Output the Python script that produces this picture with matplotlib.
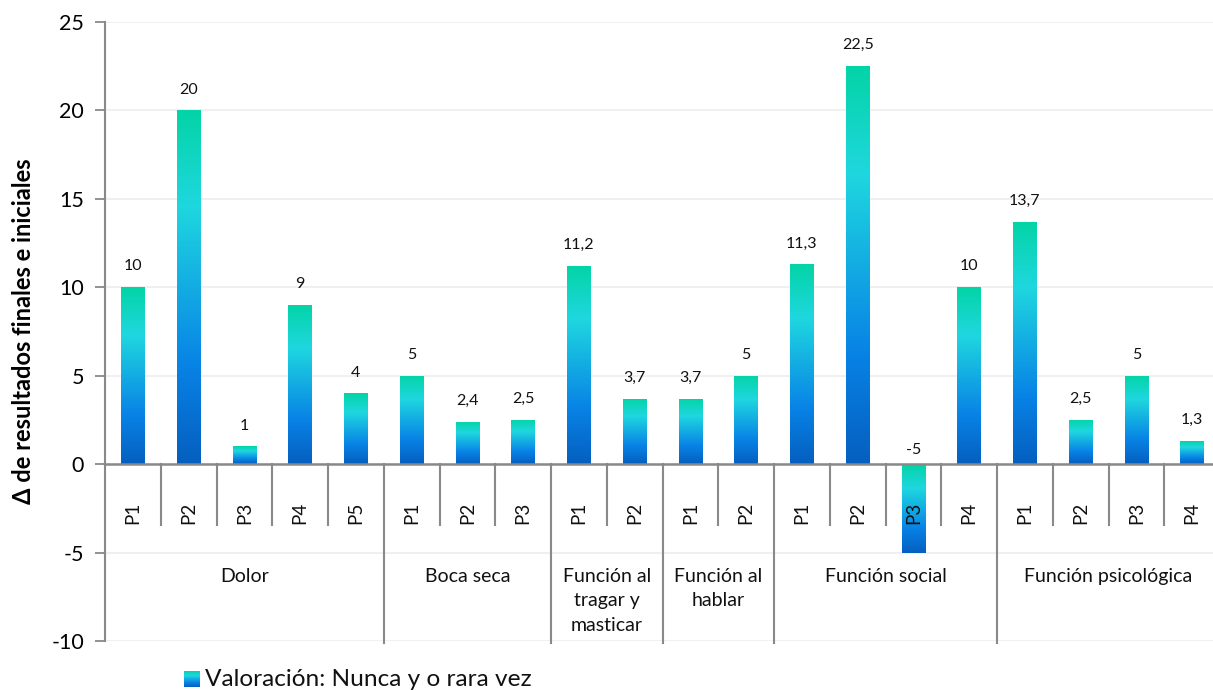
import numpy as np
import matplotlib
matplotlib.use("Agg")
import matplotlib.pyplot as plt
from matplotlib.colors import LinearSegmentedColormap

plt.rcParams['font.family'] = ['Lato', 'DejaVu Sans']
plt.rcParams['axes.unicode_minus'] = False

# data
groups = ['Dolor', 'Boca seca', 'Función al\ntragar y\nmasticar', 'Función al\nhablar',
          'Función social', 'Función psicológica']
items = [['P1', 'P2', 'P3', 'P4', 'P5'],
         ['P1', 'P2', 'P3'],
         ['P1', 'P2'],
         ['P1', 'P2'],
         ['P1', 'P2', 'P3', 'P4'],
         ['P1', 'P2', 'P3', 'P4']]
values = [10, 20, 1, 9, 4,
          5, 2.4, 2.5,
          11.2, 3.7,
          3.7, 5,
          11.3, 22.5, -5, 10,
          13.7, 2.5, 5, 1.3]
labels = [p for g in items for p in g]
legend_label = 'Valoración: Nunca y o rara vez'

grad = LinearSegmentedColormap.from_list('g', [(0, '#03d4a6'), (0.27, '#1fd7df'),
                                               (0.72, '#0883e6'), (1, '#055fbf')])
gray = '#898989'

fig = plt.figure(figsize=(12.13, 6.9), dpi=100)
ax = fig.add_axes([105 / 1213, 1 - 641 / 690, (1220 - 105) / 1213, (641 - 22) / 690])
x = np.arange(len(values))
ax.set_xlim(-0.5, len(values) - 0.5)
ax.set_ylim(-10, 25)

ax.set_yticks(np.arange(-10, 26, 5))
ax.yaxis.grid(True, color='#efefef', lw=1.3)
ax.set_axisbelow(True)
ax.tick_params(axis='y', labelsize=15.5, length=7, color=gray, width=1.3, pad=8)
ax.set_xticks([])
for s in ['top', 'right', 'bottom']:
    ax.spines[s].set_visible(False)
ax.spines['left'].set_color(gray)
ax.spines['left'].set_linewidth(1.5)
ax.set_ylabel('Δ de resultados finales e iniciales', fontsize=17, fontweight='bold', labelpad=12)

bars = ax.bar(x, values, width=0.42, color='none', zorder=3)
g = np.linspace(0, 1, 256).reshape(-1, 1)
for b, v in zip(bars, values):
    x0 = b.get_x()
    lo, hi = min(0, v), max(0, v)
    im = ax.imshow(g, cmap=grad, aspect='auto', origin='upper',
                   extent=[x0, x0 + b.get_width(), lo, hi], zorder=3)
    im.set_clip_path(b)
    txt = ('%g' % v).replace('.', ',')
    off = 10 if v >= 0 else 5.5
    ax.annotate(txt, (b.get_x() + b.get_width() / 2, hi), xytext=(0, off),
                textcoords='offset points', ha='center', va='bottom', fontsize=11.5, color='#111111')

# zero axis
ax.axhline(0, color=gray, lw=1.8, zorder=4)

# category axis
for i, lab in enumerate(labels):
    ax.text(i, -2.77, lab, rotation=90, ha='center', va='center', fontsize=13.5, color='#111111')
pos = 0
bounds = [0]
for gname, it in zip(groups, items):
    n = len(it)
    for k in range(1, n):
        ax.plot([pos + k - 0.5] * 2, [0, -3.45], color=gray, lw=1.5, zorder=4, clip_on=False)
    ax.text(pos + (n - 1) / 2, -5.85, gname, ha='center', va='top', fontsize=14,
            linespacing=1.55, color='#111111')
    pos += n
    bounds.append(pos)
for bd in bounds[1:]:
    ax.plot([bd - 0.5] * 2, [0, -10.1], color=gray, lw=1.5, zorder=4, clip_on=False)

# legend
lax = fig.add_axes([184 / 1213, 1 - 687 / 690, 16 / 1213, 16 / 690])
lax.imshow(g, cmap=grad, aspect='auto')
lax.axis('off')
fig.text(205 / 1213, 1 - 679 / 690, legend_label, fontsize=17.6, va='center', ha='left', color='#111111')

fig.savefig('out.png', dpi=100)
